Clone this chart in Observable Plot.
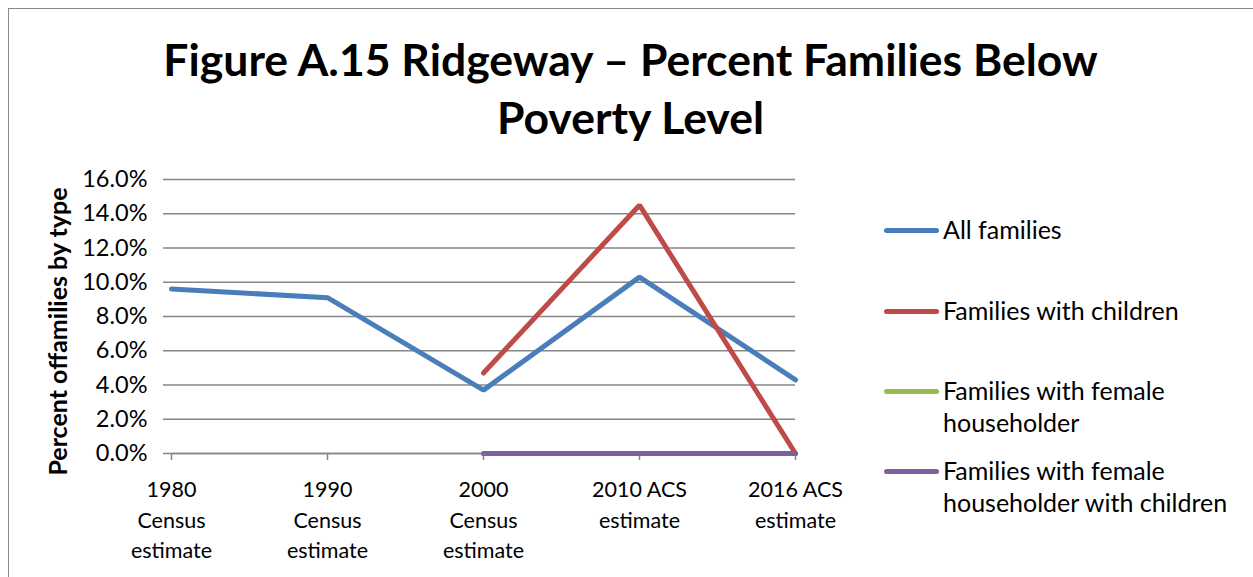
<!DOCTYPE html>
<html><head><meta charset="utf-8">
<script src="https://cdn.jsdelivr.net/npm/d3@7"></script>
<script src="https://cdn.jsdelivr.net/npm/@observablehq/plot@0.6"></script>
<style>
html,body{margin:0;padding:0;background:#fff;}
#wrap{position:relative;width:1253px;height:577px;overflow:hidden;font-family:Lato,"Open Sans",sans-serif;color:#000;}
#frame{position:absolute;left:8px;top:8px;width:1300px;height:600px;border-left:1.5px solid #8a8a8a;border-top:1.5px solid #8a8a8a;}
#title{position:absolute;left:0;width:1261px;top:30px;text-align:center;font-weight:bold;font-size:44.5px;line-height:58px;}
#chart{position:absolute;left:0;top:160px;}
#legend{position:absolute;left:884px;top:0;font-size:25px;}
.li{position:absolute;left:0;white-space:nowrap;}
.sw{position:absolute;left:0;width:55px;height:5px;border-radius:3px;}
.lt{position:absolute;left:59px;line-height:32px;}
</style></head>
<body><div id="wrap"><div id="frame"></div>
<div id="title">Figure A.15 Ridgeway – Percent Families Below<br>Poverty Level</div>
<div id="chart"></div><div id="legend"></div></div>
<script>
const categories = ["1980", "1990", "2000", "2010", "2016"];
const tickLabels = ["1980\nCensus\nestimate", "1990\nCensus\nestimate", "2000\nCensus\nestimate", "2010 ACS\nestimate", "2016 ACS\nestimate"];
const seriesNames = ["All families", "Families with children", "Families with female householder", "Families with female householder with children"];
const legendLabels = ["All families", "Families with children", "Families with female\nhouseholder", "Families with female\nhouseholder with children"];
const colors = ["#4A7EBB", "#BE4B48", "#98B954", "#7D60A0"];
const allFamilies = [0.096, 0.091, 0.037, 0.103, 0.043];
const withChildren = [null, null, 0.047, 0.145, 0.0];
const femaleHH = [null, null, 0.0, 0.0, 0.0];
const femaleHHChildren = [null, null, 0.0, 0.0, 0.0];
const yTicks = [0, 0.02, 0.04, 0.06, 0.08, 0.10, 0.12, 0.14, 0.16];

const seriesValues = [allFamilies, withChildren, femaleHH, femaleHHChildren];
const rows = [];
seriesValues.forEach((vals, si) => vals.forEach((v, i) => {
  if (v !== null) rows.push({series: seriesNames[si], cat: categories[i], value: v});
}));

const W = 860, H = 417;
const chart = Plot.plot({
  width: W, height: H,
  marginLeft: 171, marginRight: 65, marginTop: 19, marginBottom: 124,
  style: {fontFamily: "Lato, 'Open Sans', sans-serif", fontSize: "22px", color: "#000", background: "transparent", overflow: "visible"},
  x: {type: "point", domain: categories, padding: 0},
  y: {domain: [0, 0.16]},
  color: {domain: seriesNames, range: colors},
  marks: [
    Plot.gridY(yTicks, {stroke: "#868686", strokeOpacity: 1, strokeWidth: 1.5}),
    Plot.axisY({ticks: yTicks, tickFormat: d3.format(".1%"), tickSize: 8, tickPadding: 16, stroke: "#868686", strokeWidth: 1.5, label: null, fontSize: 23.5}),
    Plot.ruleX([0], {frameAnchor: "left", y1: 0, y2: 0.16, stroke: "#868686", strokeWidth: 1.5}),
    Plot.ruleY([0], {stroke: "#868686", strokeWidth: 1.5}),
    Plot.axisX({tickFormat: (d) => tickLabels[categories.indexOf(d)], tickSize: 7, tickPadding: 15, stroke: "#868686", strokeWidth: 1.5, label: null, fontSize: 21.5, lineHeight: 1.42}),
    Plot.line(rows, {x: "cat", y: "value", z: "series", stroke: "series", strokeWidth: 5, strokeLinecap: "round", strokeLinejoin: "miter"}),
    Plot.text(["Percent offamilies by type"], {frameAnchor: "left", dx: -113, dy: 15, rotate: -90, textAnchor: "middle", fontWeight: "bold", fontSize: 25})
  ]
});
document.getElementById("chart").appendChild(chart);

const legendTops = [230, 311, 391, 471];
const lg = document.getElementById("legend");
legendLabels.forEach((lab, i) => {
  const d = document.createElement("div");
  d.className = "li";
  d.style.top = legendTops[i] + "px";
  const sw = document.createElement("div");
  sw.className = "sw"; sw.style.background = colors[i]; sw.style.top = "-2.5px";
  const t = document.createElement("div");
  t.className = "lt"; t.style.top = "-17px";
  t.innerHTML = lab.replace("\n", "<br>");
  d.appendChild(sw); d.appendChild(t); lg.appendChild(d);
});
</script></body></html>
